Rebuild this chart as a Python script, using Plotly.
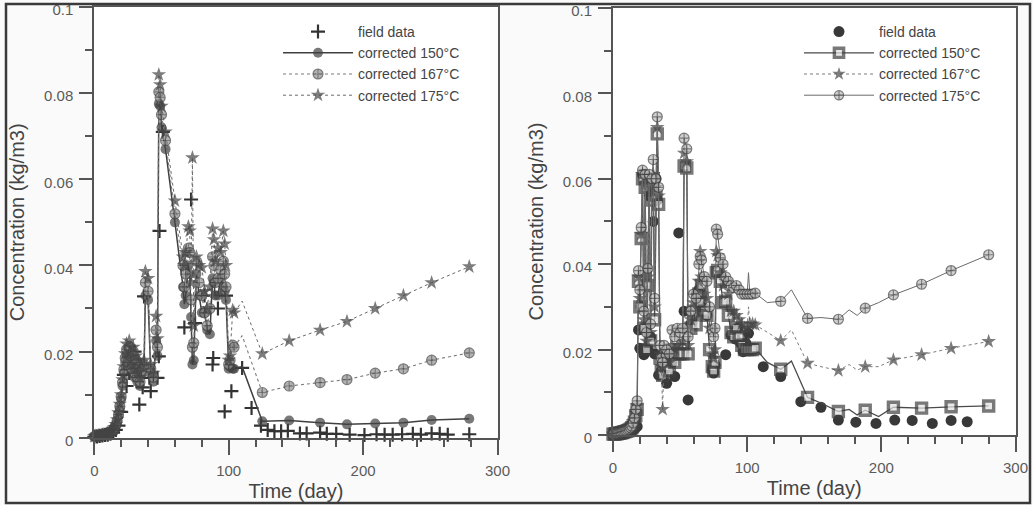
import plotly.graph_objects as go

# ---------------- Left panel data ----------------
L_t = [0, 1, 2, 3, 4, 5, 6, 7, 8, 9, 10, 11, 12, 13, 14, 15, 16, 17, 18, 19,
       20, 21, 22, 23, 24, 25, 26, 27, 28, 29, 30, 31, 32, 33, 34, 35,
       37, 38, 40, 42, 44, 46, 47, 48, 49, 50,
       53, 60, 66, 67, 68, 70, 71, 72, 73, 74,
       76, 78, 80, 82, 84, 86, 88, 89, 90, 92,
       94, 96, 97, 98, 100, 101, 103, 104, 110, 125,
       145, 168, 188, 209, 230, 251, 279]
L_150 = [0.0003, 0.0003, 0.0004, 0.0004, 0.0005, 0.0005, 0.0006, 0.0006, 0.0007, 0.0008,
         0.0009, 0.0010, 0.0012, 0.0014, 0.0017, 0.0021, 0.0027, 0.0036, 0.0050, 0.0068,
         0.0090, 0.0120, 0.0150, 0.0175, 0.0195, 0.0165, 0.0200, 0.0180, 0.0150, 0.0190,
         0.0140, 0.0170, 0.0130, 0.0160, 0.0120, 0.0145,
         0.0160, 0.0330, 0.0320, 0.0150, 0.0130, 0.0225, 0.0190, 0.0775, 0.0770, 0.0720,
         0.0670, 0.0500, 0.0350, 0.0310, 0.0330, 0.0400, 0.0380, 0.0280, 0.0170, 0.0180,
         0.0380, 0.0330, 0.0290, 0.0290, 0.0250, 0.0240, 0.0370, 0.0360, 0.0330, 0.0330,
         0.0370, 0.0350, 0.0340, 0.0320, 0.0160, 0.0165, 0.0160, 0.0160, 0.0165, 0.0038,
         0.0040, 0.0035, 0.0031, 0.0033, 0.0035, 0.0041, 0.0044]
L_167 = [0.0003, 0.0003, 0.0004, 0.0004, 0.0005, 0.0005, 0.0006, 0.0007, 0.0008, 0.0009,
         0.0010, 0.0011, 0.0013, 0.0015, 0.0018, 0.0023, 0.0029, 0.0039, 0.0054, 0.0073,
         0.0095, 0.0128, 0.0158, 0.0185, 0.0205, 0.0175, 0.0212, 0.0190, 0.0160, 0.0200,
         0.0150, 0.0180, 0.0140, 0.0170, 0.0130, 0.0155,
         0.0170, 0.0360, 0.0340, 0.0160, 0.0140, 0.0250, 0.0210, 0.0803, 0.0790, 0.0750,
         0.0690, 0.0520, 0.0400, 0.0350, 0.0380, 0.0440, 0.0430, 0.0320, 0.0210, 0.0220,
         0.0410, 0.0360, 0.0330, 0.0290, 0.0260, 0.0300, 0.0420, 0.0400, 0.0360, 0.0370,
         0.0390, 0.0410, 0.0380, 0.0350, 0.0170, 0.0180, 0.0215, 0.0210, 0.0237, 0.0105,
         0.0120, 0.0128, 0.0135, 0.0150, 0.0160, 0.0180, 0.0197]
L_175 = [0.0003, 0.0004, 0.0004, 0.0005, 0.0005, 0.0006, 0.0007, 0.0007, 0.0008, 0.0009,
         0.0011, 0.0012, 0.0014, 0.0016, 0.0019, 0.0024, 0.0031, 0.0042, 0.0058, 0.0078,
         0.0100, 0.0135, 0.0165, 0.0195, 0.0218, 0.0185, 0.0225, 0.0200, 0.0170, 0.0210,
         0.0160, 0.0190, 0.0150, 0.0180, 0.0140, 0.0165,
         0.0180, 0.0386, 0.0370, 0.0170, 0.0150, 0.0282, 0.0230, 0.0843, 0.0820, 0.0770,
         0.0710, 0.0550, 0.0420, 0.0400, 0.0430, 0.0490, 0.0480, 0.0360, 0.0650, 0.0260,
         0.0420, 0.0400, 0.0395, 0.0340, 0.0300, 0.0350, 0.0485, 0.0460, 0.0410, 0.0440,
         0.0430, 0.0480, 0.0450, 0.0400, 0.0180, 0.0190, 0.0296, 0.0290, 0.0317, 0.0195,
         0.0225, 0.0250, 0.0270, 0.0300, 0.0330, 0.0360, 0.0397]
L_field_t = [0, 2, 4, 6, 8, 10, 12, 14, 16, 18,
             20, 22, 24, 26, 28, 30, 32,
             33.5, 36, 37, 41, 42, 47, 48, 48.5, 51, 67,
             72, 75, 82, 88, 88.5, 92, 97, 98, 102, 110,
             117, 124, 129, 134, 139, 144, 153, 158, 168, 173,
             180, 190, 201, 210, 216, 222, 229, 237, 243, 251,
             257, 263, 279]
L_field = [0.0002, 0.0003, 0.0004, 0.0005, 0.0006, 0.0007, 0.0009, 0.0012, 0.0018, 0.0028,
           0.0060, 0.0146, 0.0120, 0.0150, 0.0180, 0.0200, 0.0160,
           0.0077, 0.0117, 0.0328, 0.0139, 0.0108, 0.0139, 0.0189, 0.0480, 0.0710, 0.0256,
           0.0553, 0.0266, 0.0330, 0.0170, 0.0185, 0.0300, 0.0061, 0.0330, 0.0108, 0.0162,
           0.0069, 0.0028, 0.0018, 0.0015, 0.0015, 0.0016, 0.0010, 0.0010, 0.0012, 0.0009,
           0.0009, 0.0007, 0.0006, 0.0008, 0.0007, 0.0007, 0.0008, 0.0009, 0.0007, 0.0010,
           0.0009, 0.0007, 0.0008]
L_curve_only = [110]

# ---------------- Right panel data ----------------
R_t = [0, 1, 2, 3, 4, 5, 6, 7, 8, 9, 10, 11, 12, 13, 14, 15, 16, 17, 18,
       19, 20, 21, 22, 23, 24, 25, 26, 27, 28, 29, 30, 31, 32, 33, 34,
       35, 36, 37, 38, 40, 42, 44, 46, 48, 50,
       52, 53, 55, 56, 58, 60, 62, 64, 65, 66,
       68, 70, 72, 74, 75, 76, 77, 78, 80, 82,
       84, 86, 88, 90, 92, 94, 96, 98, 100, 101,
       102, 104, 106, 115, 125, 133, 145, 155, 168, 176,
       182, 188, 198, 209, 230, 252, 280]
R_150 = [0.0002, 0.0002, 0.0003, 0.0003, 0.0004, 0.0004, 0.0005, 0.0006, 0.0007, 0.0008,
         0.0009, 0.0010, 0.0012, 0.0014, 0.0017, 0.0022, 0.0030, 0.0045, 0.0060,
         0.0360, 0.0300, 0.0460, 0.0600, 0.0250, 0.0580, 0.0200, 0.0350, 0.0590, 0.0220,
         0.0550, 0.0600, 0.0270, 0.0560, 0.0705, 0.0540,
         0.0180, 0.0150, 0.0140, 0.0180, 0.0160, 0.0150, 0.0190, 0.0170, 0.0190, 0.0190,
         0.0190, 0.0630, 0.0625, 0.0190, 0.0250, 0.0290, 0.0258, 0.0330, 0.0310, 0.0350,
         0.0290, 0.0280, 0.0200, 0.0160, 0.0150, 0.0170, 0.0380, 0.0385, 0.0360, 0.0310,
         0.0313, 0.0280, 0.0240, 0.0230, 0.0250, 0.0230, 0.0210, 0.0200, 0.0200, 0.0230,
         0.0200, 0.0200, 0.0203, 0.0170, 0.0154, 0.0173, 0.0088, 0.0075, 0.0055, 0.0060,
         0.0047, 0.0058, 0.0043, 0.0065, 0.0063, 0.0066, 0.0068]
R_167 = [0.0002, 0.0002, 0.0003, 0.0003, 0.0004, 0.0004, 0.0005, 0.0006, 0.0007, 0.0008,
         0.0009, 0.0011, 0.0013, 0.0015, 0.0018, 0.0024, 0.0033, 0.0050, 0.0068,
         0.0370, 0.0320, 0.0470, 0.0610, 0.0270, 0.0590, 0.0220, 0.0370, 0.0600, 0.0240,
         0.0570, 0.0610, 0.0300, 0.0580, 0.0720, 0.0560,
         0.0190, 0.0160, 0.0060, 0.0190, 0.0180, 0.0170, 0.0210, 0.0200, 0.0210, 0.0210,
         0.0220, 0.0660, 0.0640, 0.0210, 0.0270, 0.0310, 0.0290, 0.0360, 0.0430, 0.0370,
         0.0330, 0.0320, 0.0250, 0.0190, 0.0180, 0.0200, 0.0430, 0.0420, 0.0380, 0.0350,
         0.0360, 0.0330, 0.0290, 0.0290, 0.0280, 0.0270, 0.0260, 0.0250, 0.0250, 0.0300,
         0.0260, 0.0260, 0.0258, 0.0240, 0.0221, 0.0246, 0.0168, 0.0160, 0.0151, 0.0165,
         0.0152, 0.0160, 0.0160, 0.0176, 0.0188, 0.0203, 0.0219]
R_175 = [0.0002, 0.0003, 0.0003, 0.0004, 0.0004, 0.0005, 0.0006, 0.0007, 0.0008, 0.0009,
         0.0010, 0.0012, 0.0014, 0.0017, 0.0021, 0.0028, 0.0040, 0.0060, 0.0080,
         0.0385, 0.0340, 0.0486, 0.0620, 0.0290, 0.0610, 0.0240, 0.0390, 0.0610, 0.0260,
         0.0600, 0.0645, 0.0320, 0.0600, 0.0745, 0.0580,
         0.0210, 0.0180, 0.0170, 0.0210, 0.0200, 0.0190, 0.0246, 0.0230, 0.0250, 0.0240,
         0.0250, 0.0695, 0.0670, 0.0230, 0.0290, 0.0330, 0.0320, 0.0400, 0.0418, 0.0410,
         0.0371, 0.0360, 0.0300, 0.0246, 0.0230, 0.0250, 0.0482, 0.0470, 0.0415, 0.0400,
         0.0370, 0.0360, 0.0350, 0.0345, 0.0350, 0.0340, 0.0330, 0.0330, 0.0330, 0.0380,
         0.0330, 0.0330, 0.0332, 0.0310, 0.0313, 0.0340, 0.0273, 0.0275, 0.0271, 0.0293,
         0.0280, 0.0297, 0.0310, 0.0328, 0.0353, 0.0385, 0.0422]
R_field_t = [0, 2, 4, 6, 8, 10, 12, 14, 16, 18,
             19, 20, 21, 22, 23, 24, 25, 26, 27, 28, 29, 30, 31, 32, 33, 34,
             36, 40, 44, 46, 48, 49, 53, 56, 58, 62,
             64, 66, 70, 74, 75, 76, 84, 88, 90, 91,
             93, 95, 97, 99, 101, 112, 125, 140, 155, 168,
             181, 196, 210, 223, 238, 252, 264]
R_field = [0.0002, 0.0003, 0.0003, 0.0004, 0.0005, 0.0006, 0.0008, 0.0010, 0.0014, 0.0020,
           0.0246, 0.0203, 0.0300, 0.0610, 0.0188, 0.0250, 0.0600, 0.0200, 0.0560, 0.0230,
           0.0600, 0.0500, 0.0190, 0.0600, 0.0550, 0.0140,
           0.0150, 0.0121, 0.0170, 0.0137, 0.0190, 0.0473, 0.0290, 0.0082, 0.0260, 0.0330,
           0.0340, 0.0300, 0.0280, 0.0152, 0.0145, 0.0164, 0.0188, 0.0234, 0.0240, 0.0225,
           0.0250, 0.0215, 0.0195, 0.0215, 0.0238, 0.0160, 0.0137, 0.0078, 0.0065, 0.0035,
           0.0030, 0.0027, 0.0035, 0.0034, 0.0027, 0.0034, 0.0031]
R_curve_only = [101, 115, 133, 155, 176, 182, 198]

x_tickvals = [0, 100, 200, 300]
x_minorvals = [0, 20, 40, 60, 80, 100, 120, 140, 160, 180, 200, 220, 240, 260, 280, 300]
y_tickvals = [0, 0.02, 0.04, 0.06, 0.08, 0.1]
y_minorvals = [0.01, 0.03, 0.05, 0.07, 0.09]
legend_names = ["field data", "corrected 150°C", "corrected 167°C", "corrected 175°C"]

W, H = 1033, 505
FONT = "Liberation Sans, Arial, sans-serif"


def sizes(ts, skip, s):
    return [0 if t in skip else s for t in ts]


fig = go.Figure()

# ---- left panel traces ----
fig.add_trace(go.Scatter(
    x=L_field_t, y=L_field, mode="markers", name=legend_names[0],
    marker=dict(symbol="cross-thin", size=10, color="#333", line=dict(width=2.2, color="#333")),
    xaxis="x", yaxis="y", legend="legend", cliponaxis=False))
fig.add_trace(go.Scatter(
    x=L_t, y=L_150, mode="lines+markers", name=legend_names[1],
    line=dict(color="#404040", width=1.5),
    marker=dict(symbol="circle", size=sizes(L_t, L_curve_only, 10), color="#404040",
                line=dict(width=0)),
    xaxis="x", yaxis="y", legend="legend", cliponaxis=False))
fig.add_trace(go.Scatter(
    x=L_t, y=L_167, mode="lines+markers", name=legend_names[2],
    line=dict(color="#7a7a7a", width=1.1, dash="dot"),
    marker=dict(symbol="circle-cross", size=sizes(L_t, L_curve_only, 10), color="#949494",
                line=dict(width=1.2, color="#454545")),
    xaxis="x", yaxis="y", legend="legend", cliponaxis=False))
fig.add_trace(go.Scatter(
    x=L_t, y=L_175, mode="lines+markers", name=legend_names[3],
    line=dict(color="#6a6a6a", width=1.0, dash="dot"),
    marker=dict(symbol="star", size=sizes(L_t, L_curve_only, 11), color="#454545",
                line=dict(width=0)),
    xaxis="x", yaxis="y", legend="legend", cliponaxis=False))

# ---- right panel traces ----
fig.add_trace(go.Scatter(
    x=R_field_t, y=R_field, mode="markers", name=legend_names[0],
    marker=dict(symbol="circle", size=11, color="#383838", line=dict(width=0)),
    xaxis="x2", yaxis="y2", legend="legend2", cliponaxis=False))
fig.add_trace(go.Scatter(
    x=R_t, y=R_150, mode="lines+markers", name=legend_names[1],
    line=dict(color="#4a4a4a", width=1.3),
    marker=dict(symbol="square", size=sizes(R_t, R_curve_only, 10), color="#e2e2e2",
                line=dict(width=3.4, color="#3f3f3f")),
    xaxis="x2", yaxis="y2", legend="legend2", cliponaxis=False))
fig.add_trace(go.Scatter(
    x=R_t, y=R_167, mode="lines+markers", name=legend_names[2],
    line=dict(color="#7a7a7a", width=1.0, dash="dot"),
    marker=dict(symbol="star", size=sizes(R_t, R_curve_only, 11), color="#454545",
                line=dict(width=0)),
    xaxis="x2", yaxis="y2", legend="legend2", cliponaxis=False))
fig.add_trace(go.Scatter(
    x=R_t, y=R_175, mode="lines+markers", name=legend_names[3],
    line=dict(color="#6a6a6a", width=1.0),
    marker=dict(symbol="circle-cross", size=sizes(R_t, R_curve_only, 10), color="#bdbdbd",
                line=dict(width=1.2, color="#454545")),
    xaxis="x2", yaxis="y2", legend="legend2", cliponaxis=False))

axis_common = dict(
    range=[0, 300], tickmode="array", tickvals=x_tickvals, ticks="outside", ticklen=15,
    tickwidth=1.5, tickcolor="#555", showline=True, linecolor="#555", linewidth=2, mirror=True,
    showgrid=False, zeroline=False, tickfont=dict(size=15, color="#5a5a5a", family=FONT),
    ticklabelstandoff=3, ticklabeloverflow="allow", automargin=False,
    minor=dict(tickmode="array", tickvals=x_minorvals, ticks="outside", ticklen=7,
               tickwidth=1.5, tickcolor="#555", showgrid=False),
    title=dict(text="Time (day)", font=dict(size=20, color="#444", family=FONT), standoff=6),
)
yaxis_common = dict(
    range=[0, 0.1], tickmode="array", tickvals=y_tickvals, ticks="outside", ticklen=13,
    tickwidth=1.5, tickcolor="#555", showline=True, linecolor="#555", linewidth=2, mirror=True,
    showgrid=False, zeroline=False, tickfont=dict(size=15, color="#5a5a5a", family=FONT),
    ticklabelstandoff=3, ticklabelshift=3, ticklabeloverflow="allow", automargin=False,
    minor=dict(tickmode="array", tickvals=y_minorvals, ticks="outside", ticklen=7,
               tickwidth=1.5, tickcolor="#555", showgrid=False),
    title=dict(text="Concentration (kg/m3)", font=dict(size=20, color="#444", family=FONT), standoff=14),
)

legend_common = dict(
    font=dict(size=14, color="#444", family=FONT), bgcolor="rgba(0,0,0,0)",
    xanchor="left", yanchor="top", itemwidth=70, tracegroupgap=0, borderwidth=0,
)

fig.update_layout(
    width=W, height=H, margin=dict(l=0, r=0, t=0, b=0, autoexpand=False),
    paper_bgcolor="#fafafa", plot_bgcolor="#ffffff",
    font=dict(family=FONT, color="#444"),
    xaxis=dict(domain=[94.3 / W, 497.5 / W], anchor="y", **axis_common),
    yaxis=dict(domain=[(H - 437.7) / H, (H - 7) / H], anchor="x", **yaxis_common),
    xaxis2=dict(domain=[613 / W, 1015.5 / W], anchor="y2", **axis_common),
    yaxis2=dict(domain=[(H - 435) / H, (H - 7.9) / H], anchor="x2", **yaxis_common),
    legend=dict(x=278 / W, y=1 - 16 / H, **legend_common),
    legend2=dict(x=799 / W, y=1 - 16 / H, **legend_common),
    shapes=[
        dict(type="rect", xref="paper", yref="paper", x0=6 / W, x1=1030 / W,
             y0=2 / H, y1=1 - 4 / H, line=dict(color="#3a3a3a", width=2.5),
             fillcolor="rgba(0,0,0,0)", layer="below"),
    ],
)

fig.write_html("out.html")
